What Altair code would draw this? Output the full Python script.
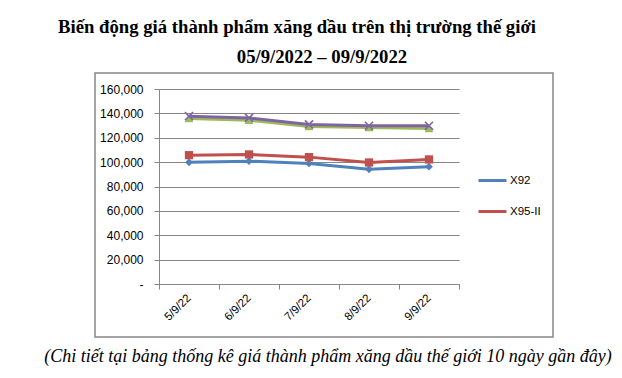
import altair as alt
import pandas as pd

dates = ["5/9/22", "6/9/22", "7/9/22", "8/9/22", "9/9/22"]
series_names = ["X92", "X95-II", "DO 0,05S", "Dầu hỏa"]
x92 = [99800, 100800, 98900, 94100, 96300]
x95 = [105700, 106300, 104100, 99700, 102200]
do005 = [135800, 134400, 129200, 128400, 127600]
dauhoa = [137700, 136300, 130900, 129800, 129800]
y_ticks = [0, 20000, 40000, 60000, 80000, 100000, 120000, 140000, 160000]
colors = ["#4F81BD", "#C0504D", "#9BBB59", "#8064A2"]
legend_shown = ["X92", "X95-II"]

title_line1 = "Biến động giá thành phẩm xăng dầu trên thị trường thế giới"
title_line2 = "05/9/2022 – 09/9/2022"
footnote = "(Chi tiết tại bảng thống kê giá thành phẩm xăng dầu thế giới 10 ngày gần đây)"

rows = []
for name, vals in zip(series_names, [x92, x95, do005, dauhoa]):
    for d, v in zip(dates, vals):
        rows.append({"date": d, "value": v, "series": name, "marker": name})
df = pd.DataFrame(rows)

x_scale = alt.Scale(type="band", domain=dates, paddingInner=0, paddingOuter=0)
y_scale = alt.Scale(domain=[0, 160000], nice=False)
color_scale = alt.Scale(domain=series_names, range=colors)
x_shape = "M-1,-0.75L-0.75,-1L0,-0.25L0.75,-1L1,-0.75L0.25,0L1,0.75L0.75,1L0,0.25L-0.75,1L-1,0.75L-0.25,0Z"
shape_scale = alt.Scale(domain=series_names, range=["diamond", "square", "triangle-up", x_shape])
size_scale = alt.Scale(domain=series_names, range=[60, 85, 95, 90])

x_axis = alt.Axis(labelAngle=-45, labelAlign="right", labelBaseline="middle",
                  tickBand="extent", ticks=True, tickSize=5, labelPadding=7,
                  domainColor="#868686", tickColor="#868686", grid=False,
                  labelOverlap=False,
                  labelFont="Liberation Sans", labelFontSize=11.5, labelColor="#000000")
y_axis = alt.Axis(values=y_ticks, grid=True, gridColor="#868686", tickSize=5,
                  tickColor="#868686", domainColor="#868686", labelPadding=11,
                  labelOverlap=False,
                  labelExpr="datum.value == 0 ? '-' : format(datum.value, ',')",
                  labelFont="Liberation Sans", labelFontSize=12, labelColor="#000000")

x_enc = alt.X("date:N", scale=x_scale, sort=dates, bandPosition=0.5, title=None, axis=x_axis)
y_enc = alt.Y("value:Q", scale=y_scale, title=None, axis=y_axis)

lines = alt.Chart(df).mark_line(strokeWidth=3).encode(
    x=x_enc, y=y_enc,
    color=alt.Color("series:N", scale=color_scale, sort=series_names,
                    legend=alt.Legend(values=legend_shown, title=None, orient="none",
                                      legendX=318, legendY=76, symbolType="stroke",
                                      symbolSize=784, symbolStrokeWidth=3, rowPadding=9,
                                      labelOffset=2, labelFont="Liberation Sans",
                                      labelFontSize=11.5, labelColor="#000000")),
    order=alt.Order("date:N"),
)

points = alt.Chart(df).mark_point(filled=True, opacity=1).encode(
    x=x_enc, y=y_enc,
    fill=alt.Fill("marker:N", scale=color_scale, legend=None),
    shape=alt.Shape("marker:N", scale=shape_scale, legend=None),
    size=alt.Size("marker:N", scale=size_scale, legend=None),
)

frame = alt.Chart(pd.DataFrame({"a": [0]})).mark_rect(fill=None, stroke="#868686", strokeWidth=1.5).encode(
    x=alt.value(-64), x2=alt.value(394), y=alt.value(-16), y2=alt.value(248)
)

t1 = alt.Chart(pd.DataFrame({"t": [title_line1]})).mark_text(
    font="Liberation Serif", fontSize=18.7, fontWeight="bold", align="center", baseline="middle", color="#000000"
).encode(text="t:N", x=alt.value(138), y=alt.value(-62))

t2 = alt.Chart(pd.DataFrame({"t": [title_line2]})).mark_text(
    font="Liberation Serif", fontSize=18.7, fontWeight="bold", align="center", baseline="middle", color="#000000"
).encode(text="t:N", x=alt.value(163), y=alt.value(-32))

t3 = alt.Chart(pd.DataFrame({"t": [footnote]})).mark_text(
    font="Liberation Serif", fontSize=18, fontStyle="italic", align="center", baseline="middle", color="#000000"
).encode(text="t:N", x=alt.value(169), y=alt.value(268))

chart = alt.layer(frame, lines, points, t1, t2, t3).resolve_scale(
    fill="independent", shape="independent", size="independent"
).properties(
    width=300, height=195,
    autosize=alt.AutoSizeParams(type="none"),
    padding={"left": 151, "top": 81, "right": 155, "bottom": 86},
).configure_view(stroke=None)

chart.save("out.html", embed_options={"renderer": "svg", "actions": False})
